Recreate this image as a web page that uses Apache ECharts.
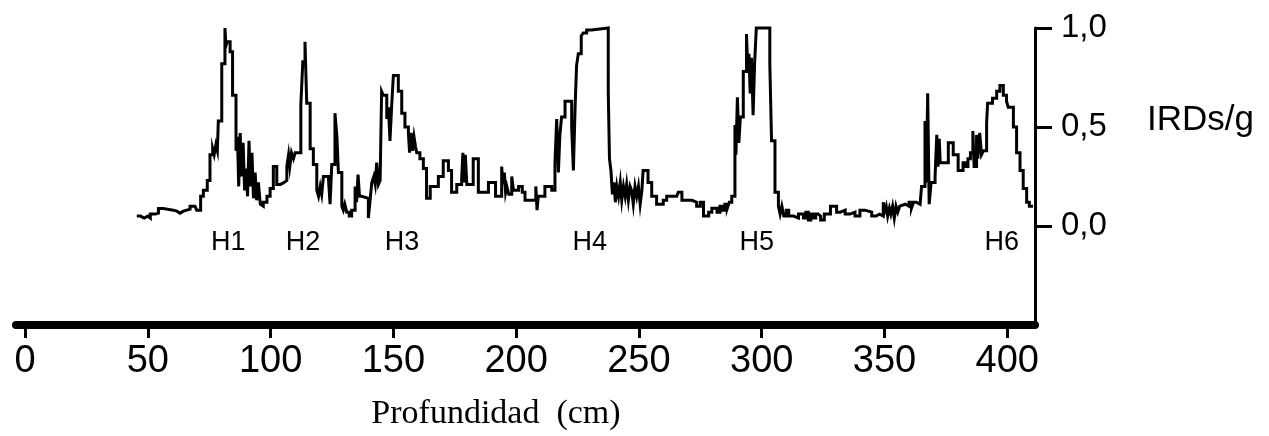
<!DOCTYPE html>
<html>
<head>
<meta charset="utf-8">
<script src="https://cdn.jsdelivr.net/npm/echarts@6/dist/echarts.min.js"></script>
<style>
  html, body { margin: 0; padding: 0; background: #ffffff; }
  #chart { width: 1269px; height: 436px; }
</style>
</head>
<body>
<div id="chart"></div>
<script>
// Depth (cm) where each step begins, and IRDs/g value from that depth on
const depths = [
  45.5, 47, 48.5, 50, 51, 53, 54.3, 56.3, 60.4, 61.8, 63.1, 64.5, 67.2, 69.2, 69.9,
  71.5, 72.6, 74.2, 75.3, 76.4, 77, 77.7, 78.3, 78.7, 80.1, 81.4, 81.8, 82.3, 83.5, 84.5,
  85.9, 86.5, 87, 87.6, 88.2, 88.8, 89.4, 90, 90.6, 91.2, 91.8, 92.4, 93, 93.7, 94.3,
  95, 95.8, 96.4, 97, 98.5, 99.8, 101.1, 102.5, 104, 105.5, 106.6, 107.3, 107.8, 108.5, 109.3,
  110, 112.3, 113.1, 114, 114.7, 116.1, 117.4, 118.8, 119.5, 120.2, 120.8, 121.5, 123.5, 124.2, 124.9,
  126.2, 127, 127.6, 129, 129.6, 130.2, 131, 132, 133, 134.4, 135, 135.6, 136.2, 137.1, 139.8,
  140.5, 141.2, 142, 142.6, 143.2, 143.9, 144.6, 145.2, 145.9, 147.3, 148, 148.6, 149.3, 150, 152,
  153.4, 154.7, 156.1, 156.6, 157.2, 157.8, 158.4, 159, 159.5, 160.8, 162.2, 163.5, 165, 168.3, 170.3,
  172.4, 173.7, 175.8, 177.8, 178.3, 178.8, 179.3, 179.9, 182.5, 184.6, 188.7, 191.6, 194.1, 194.6, 195.2,
  195.7, 196.2, 197, 198.2, 198.9, 201, 202.5, 203.6, 208, 208.5, 209, 211.7, 214.5, 215.8, 216.5,
  217.2, 217.8, 218.5, 219.9, 222.6, 223.3, 224, 224.6, 225.3, 226.5, 227.3, 228.7, 230.7, 237.5, 238,
  238.6, 239.2, 239.8, 240.4, 241, 241.7, 242.4, 243, 243.7, 244.4, 245, 245.7, 246.4, 247, 247.7,
  248.4, 249.1, 249.8, 250.5, 251.2, 251.7, 253.7, 255.2, 257.2, 259.9, 261.3, 265.4, 266, 267.5, 270,
  271.6, 273.5, 275, 276.3, 278.4, 279.7, 281.8, 283, 284, 285, 286, 286.8, 287.8, 289.1, 289.5,
  290.1, 290.7, 291.3, 292.5, 293.8, 294.3, 294.8, 295.3, 295.8, 296.5, 297.1, 297.8, 303.3, 304, 305.4,
  306.8, 307.5, 308.2, 309, 310, 311, 313, 315, 317, 318, 319, 320, 321, 322, 323,
  324, 325.5, 328, 330.5, 332, 334, 336, 338, 340, 342, 344.8, 346.5, 348, 349.5, 350,
  350.7, 351.3, 352, 352.6, 353.3, 354, 354.7, 355.4, 356.2, 357, 358.5, 360, 361, 361.8, 363,
  364.5, 365.1, 366.5, 367, 367.6, 368.2, 369, 370.6, 371.3, 371.8, 372.3, 372.7, 376, 378, 380,
  382, 383, 384, 385, 386, 386.5, 387.5, 388, 388.8, 389.5, 390.3, 391.6, 392, 394, 395.7,
  397, 398.4, 399.7, 400.4, 402.5, 403.8, 405.2, 406.5, 407.9, 409, 410.5
];
const irds = [
  0.05, 0.04, 0.05, 0.04, 0.06, 0.065, 0.088, 0.08, 0.075, 0.065, 0.075, 0.085, 0.10, 0.09, 0.08,
  0.15, 0.18, 0.23, 0.36, 0.39, 0.36, 0.41, 0.38, 0.53, 0.82, 1.0, 0.91, 0.93, 0.88, 0.66,
  0.38, 0.45, 0.20, 0.47, 0.25, 0.42, 0.18, 0.29, 0.15, 0.43, 0.20, 0.37, 0.14, 0.27, 0.13,
  0.22, 0.11, 0.10, 0.12, 0.15, 0.19, 0.30, 0.21, 0.22, 0.23, 0.30, 0.36, 0.30, 0.37, 0.34,
  0.37, 0.61, 0.83, 0.93, 0.62, 0.39, 0.31, 0.18, 0.15, 0.20, 0.16, 0.25, 0.25, 0.11, 0.31,
  0.57, 0.45, 0.27, 0.10, 0.08, 0.11, 0.07, 0.05, 0.08, 0.20, 0.12, 0.26, 0.15, 0.14, 0.04,
  0.13, 0.22, 0.25, 0.21, 0.32, 0.21, 0.23, 0.68, 0.66, 0.54, 0.60, 0.43, 0.61, 0.76, 0.68,
  0.57, 0.50, 0.47, 0.37, 0.47, 0.38, 0.45, 0.40, 0.37, 0.34, 0.29, 0.14, 0.20, 0.25, 0.33,
  0.28, 0.17, 0.21, 0.24, 0.37, 0.22, 0.36, 0.21, 0.34, 0.17, 0.22, 0.15, 0.30, 0.21, 0.27,
  0.17, 0.20, 0.16, 0.25, 0.18, 0.20, 0.17, 0.13, 0.20, 0.08, 0.15, 0.20, 0.18, 0.32, 0.54,
  0.27, 0.46, 0.55, 0.63, 0.50, 0.28, 0.60, 0.81, 0.87, 0.96, 0.975, 0.99, 1.0, 0.68, 0.34,
  0.28, 0.16, 0.22, 0.12, 0.20, 0.15, 0.22, 0.13, 0.20, 0.15, 0.21, 0.13, 0.20, 0.18, 0.11,
  0.20, 0.15, 0.20, 0.11, 0.18, 0.28, 0.22, 0.15, 0.11, 0.13, 0.15, 0.15, 0.17, 0.13, 0.13,
  0.12, 0.10, 0.12, 0.05, 0.07, 0.09, 0.07, 0.10, 0.08, 0.11, 0.09, 0.12, 0.15, 0.51, 0.36,
  0.65, 0.42, 0.55, 0.78, 0.97, 0.80, 0.87, 0.67, 0.85, 0.56, 0.82, 1.0, 0.82, 0.43, 0.17,
  0.10, 0.06, 0.10, 0.05, 0.08, 0.05, 0.04, 0.06, 0.04, 0.07, 0.03, 0.06, 0.04, 0.06, 0.05,
  0.03, 0.06, 0.10, 0.07, 0.08, 0.06, 0.07, 0.05, 0.08, 0.07, 0.05, 0.06, 0.05, 0.12, 0.07,
  0.10, 0.05, 0.09, 0.06, 0.10, 0.04, 0.10, 0.07, 0.10, 0.11, 0.10, 0.12, 0.09, 0.12, 0.11,
  0.12, 0.20, 0.53, 0.22, 0.67, 0.11, 0.22, 0.25, 0.46, 0.30, 0.44, 0.32, 0.42, 0.36, 0.28,
  0.32, 0.30, 0.34, 0.37, 0.48, 0.30, 0.46, 0.34, 0.47, 0.36, 0.38, 0.52, 0.62, 0.645, 0.68,
  0.71, 0.66, 0.63, 0.60, 0.50, 0.37, 0.28, 0.19, 0.12, 0.10, 0.10
];
const xTicks = [0, 50, 100, 150, 200, 250, 300, 350, 400];
const yTicks = [0, 0.5, 1.0];
const hNames = ['H1', 'H2', 'H3', 'H4', 'H5', 'H6'];
const hDepths = [82.7, 113.2, 153.5, 230, 298, 397.8];

const chart = echarts.init(document.getElementById('chart'), null, { renderer: 'canvas' });
const sans = "'Liberation Sans', Arial, sans-serif";
const serif = "'Liberation Serif', 'Times New Roman', serif";

chart.setOption({
  animation: false,
  backgroundColor: '#ffffff',
  grid: { left: 16, top: 28, width: 1019, height: 300, containLabel: false },
  xAxis: {
    type: 'value',
    min: -3.7,
    max: 411.3,
    name: 'Profundidad  (cm)',
    nameLocation: 'middle',
    nameGap: 72,
    nameTextStyle: { fontFamily: serif, fontSize: 34, color: '#000', padding: [0, 59, 0, 0] },
    axisLine: { show: true, onZero: false, lineStyle: { color: '#000', width: 8, cap: 'round' } },
    axisTick: { show: true, customValues: xTicks, length: 13, lineStyle: { color: '#000', width: 3 } },
    axisLabel: { show: true, customValues: xTicks, margin: 18, fontFamily: sans, fontSize: 38, color: '#000' },
    splitLine: { show: false }
  },
  yAxis: {
    type: 'value',
    position: 'right',
    min: -0.5,
    max: 1.0,
    axisLine: { show: true, onZero: false, lineStyle: { color: '#000', width: 3 } },
    axisTick: { show: true, customValues: yTicks, length: 17, lineStyle: { color: '#000', width: 3 } },
    axisLabel: {
      show: true, customValues: yTicks, margin: 26, fontFamily: sans, fontSize: 33, color: '#000',
      formatter: v => v.toFixed(1).replace('.', ',')
    },
    splitLine: { show: false }
  },
  graphic: [
    { type: 'text', left: 1147, top: 103, style: { text: 'IRDs/g', font: "35px 'Liberation Sans', Arial, sans-serif", fill: '#000' } }
  ],
  series: [
    {
      type: 'line',
      step: 'end',
      data: depths.map((d, i) => [d, irds[i]]),
      showSymbol: false,
      symbol: 'none',
      lineStyle: { color: '#000', width: 3, join: 'miter' },
      clip: false,
      z: 3
    },
    {
      type: 'scatter',
      data: hDepths.map((d, i) => ({ name: hNames[i], value: [d, 0] })),
      symbolSize: 0,
      itemStyle: { color: '#000', opacity: 1 },
      label: {
        show: true, position: 'bottom', distance: 3, formatter: p => p.name,
        fontFamily: sans, fontSize: 27, color: '#000', opacity: 1,
        textBorderWidth: 0, textShadowBlur: 0
      },
      z: 4
    }
  ]
});
</script>
</body>
</html>
